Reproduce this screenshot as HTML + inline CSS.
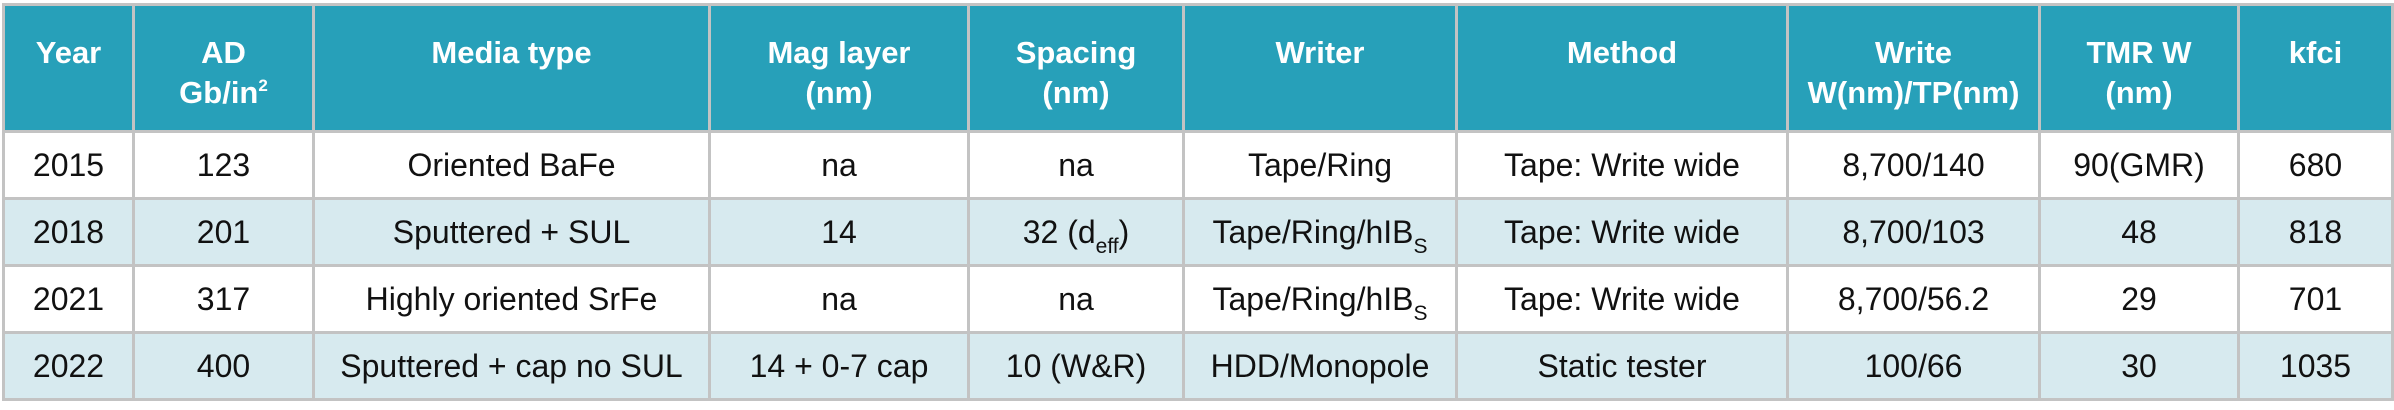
<!DOCTYPE html>
<html><head><meta charset="utf-8"><style>
html,body{margin:0;padding:0;background:#fff;}
body{width:2394px;height:410px;position:relative;overflow:hidden;font-family:"Liberation Sans",sans-serif;}
table{position:absolute;left:2px;top:3px;border-collapse:collapse;table-layout:fixed;width:2389px;}
td,th{border:3px solid #c3c3c3;text-align:center;padding:0;color:#111;font-size:32px;}
th{background:#27a0b9;color:#fff;font-weight:bold;vertical-align:top;height:121px;line-height:40px;padding-top:27px;box-sizing:border-box;font-size:31px;}
td{height:64px;}
tr.a td{background:#d7eaef;}
sub{font-size:21px;vertical-align:-10px;line-height:0;}
sup{font-size:17px;vertical-align:12px;line-height:0;}
</style></head><body>
<table>
<colgroup>
<col style="width:130px"><col style="width:180px"><col style="width:396px"><col style="width:259px"><col style="width:215px"><col style="width:273px"><col style="width:331px"><col style="width:252px"><col style="width:199px"><col style="width:154px">
</colgroup>
<tr style="height:127px"><th>Year</th><th>AD<br>Gb/in<sup>2</sup></th><th>Media type</th><th>Mag layer<br>(nm)</th><th>Spacing<br>(nm)</th><th>Writer</th><th>Method</th><th>Write<br>W(nm)/TP(nm)</th><th>TMR W<br>(nm)</th><th>kfci</th></tr>
<tr><td>2015</td><td>123</td><td>Oriented BaFe</td><td>na</td><td>na</td><td>Tape/Ring</td><td>Tape: Write wide</td><td>8,700/140</td><td>90(GMR)</td><td>680</td></tr>
<tr class="a"><td>2018</td><td>201</td><td>Sputtered + SUL</td><td>14</td><td>32 (d<sub>eff</sub>)</td><td>Tape/Ring/hIB<sub>S</sub></td><td>Tape: Write wide</td><td>8,700/103</td><td>48</td><td>818</td></tr>
<tr><td>2021</td><td>317</td><td>Highly oriented SrFe</td><td>na</td><td>na</td><td>Tape/Ring/hIB<sub>S</sub></td><td>Tape: Write wide</td><td>8,700/56.2</td><td>29</td><td>701</td></tr>
<tr class="a"><td>2022</td><td>400</td><td>Sputtered + cap no SUL</td><td>14 + 0-7 cap</td><td>10 (W&amp;R)</td><td>HDD/Monopole</td><td>Static tester</td><td>100/66</td><td>30</td><td>1035</td></tr>
</table>
</body></html>
